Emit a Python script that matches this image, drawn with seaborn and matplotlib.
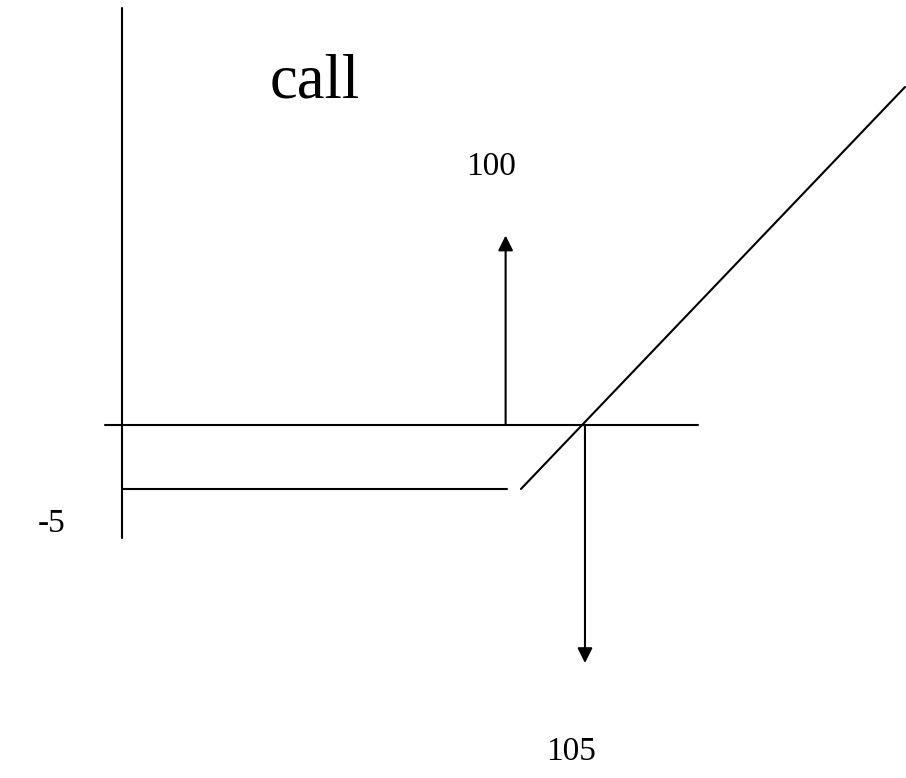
import pandas as pd
import numpy as np
import seaborn as sns
import matplotlib.pyplot as plt

# call payoff sketch (price on x, payoff on y)
seg_id = ["yaxis", "yaxis", "xaxis", "xaxis", "flat", "flat", "diag", "diag"]
seg_x = [68.8, 68.8, 67.5, 113.8, 68.8, 98.9, 100.0, 130.0]
seg_y = [32.6, -8.8, 0.0, 0.0, -5.0, -5.0, -5.0, 26.4]

# arrows: (x, y start, y end)
arrow_x = [98.8, 105.0]
arrow_y0 = [0.0, 0.0]
arrow_y1 = [14.8, -18.6]

labels = ["call", "100", "-5", "105"]
label_x = [83.9, 97.7, 63.3, 103.9]
label_y = [25.6, 19.5, -8.4, -26.2]
label_size = [45, 24, 24, 24]

df = pd.DataFrame({"seg": seg_id, "price": seg_x, "payoff": seg_y})

sns.set_style("white")
plt.rcParams["font.family"] = ["Liberation Serif", "DejaVu Serif"]
plt.rcParams["text.color"] = "black"

fig = plt.figure(figsize=(9.06, 7.78), dpi=100)
ax = fig.add_axes([0, 0, 1, 1])
sns.lineplot(data=df, x="price", y="payoff", units="seg", estimator=None,
             sort=False, color="black", linewidth=1.5, ax=ax)

for xa, ya, yb in zip(arrow_x, arrow_y0, arrow_y1):
    ax.annotate("", xy=(xa, yb), xytext=(xa, ya),
                arrowprops=dict(arrowstyle="-|>,head_length=0.9,head_width=0.45",
                                color="black", lw=1.5, shrinkA=0, shrinkB=0))

for t, tx, ty, fs in zip(labels, label_x, label_y, label_size):
    ax.text(tx, ty, t, fontsize=fs, ha="center", va="baseline", color="black")

ax.set_xlim(59.3, 130.08)
ax.set_ylim(-27.58, 33.2)
ax.axis("off")
plt.savefig("out.png", dpi=100)
